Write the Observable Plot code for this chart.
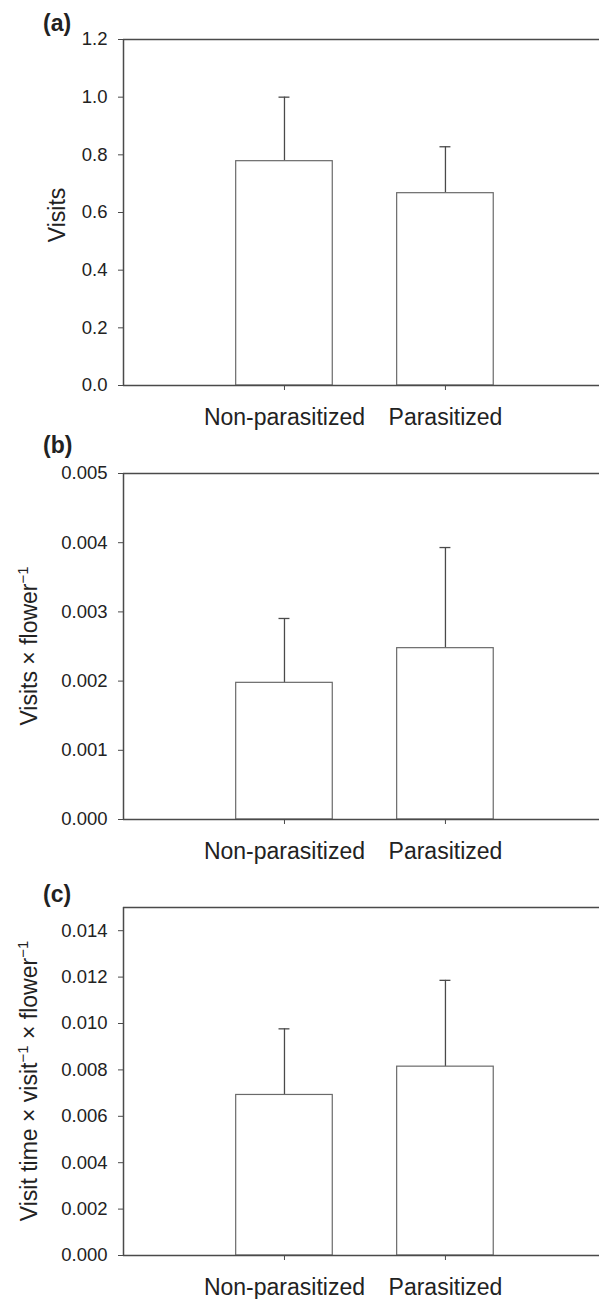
<!DOCTYPE html>
<html>
<head>
<meta charset="utf-8">
<script src="https://cdn.jsdelivr.net/npm/d3@7"></script>
<script src="https://cdn.jsdelivr.net/npm/@observablehq/plot@0.6"></script>
<style>
  html, body { margin: 0; padding: 0; background: #fff; }
  #chart { width: 599px; }
  #chart svg { display: block; }
</style>
</head>
<body>
<div id="chart"></div>
<script>
// ---- Data ----
const categories = ["Non-parasitized", "Parasitized"];

const visitsMean = [0.778, 0.667];
const visitsUpper = [1.0, 0.828];

const perFlowerMean = [0.001975, 0.002476];
const perFlowerUpper = [0.002905, 0.00393];

const timeMean = [0.00692, 0.00814];
const timeUpper = [0.00977, 0.01186];

const ticksA = [0, 0.2, 0.4, 0.6, 0.8, 1.0, 1.2];
const ticksB = [0, 0.001, 0.002, 0.003, 0.004, 0.005];
const ticksC = [0, 0.002, 0.004, 0.006, 0.008, 0.010, 0.012, 0.014];

const FONT = "'Liberation Sans', Arial, Helvetica, sans-serif";
const AXIS = "#4a4a4a";
const BAR = "#6a6a6a";
const TEXT = "#222";

function panel({mean, upper, ymax, ticks, fmt, height, marginTop, marginBottom, tag, label, labelX, labelY}) {
  const data = categories.map((c, i) => ({cat: c, pos: i + 1, value: mean[i], upper: upper[i]}));
  const plot = Plot.plot({
    width: 599,
    height,
    marginLeft: 123,
    marginRight: 0,
    marginTop,
    marginBottom,
    style: {fontFamily: FONT, color: TEXT, background: "white", overflow: "visible"},
    x: {domain: [0, 2.957], axis: null},
    y: {domain: [0, ymax], axis: null},
    marks: [
      Plot.ruleX(data, {x: "pos", y1: "value", y2: "upper", stroke: AXIS, strokeWidth: 1.3}),
      Plot.ruleY(data, {y: "upper", x1: d => d.pos - 0.034, x2: d => d.pos + 0.034, stroke: AXIS, strokeWidth: 1.3}),
      Plot.rect(data, {x1: d => d.pos - 0.3, x2: d => d.pos + 0.3, y1: 0, y2: "value", fill: "white", stroke: BAR, strokeWidth: 1.2}),
      Plot.ruleY([0], {stroke: AXIS, strokeWidth: 1.5}),
      Plot.ruleY([ymax], {stroke: AXIS, strokeWidth: 1.5}),
      Plot.ruleX([0], {stroke: AXIS, strokeWidth: 1.5}),
      Plot.axisY({ticks, tickFormat: fmt, tickSize: 5, tickPadding: 11, fontSize: 18.5, stroke: AXIS, fill: TEXT, label: null}),
      Plot.axisX({ticks: [1, 2], tickFormat: i => categories[i - 1], tickSize: 5, tickPadding: 18, fontSize: 23, stroke: AXIS, fill: TEXT, label: null})
    ]
  });
  const svg = d3.select(plot);
  svg.append("text")
    .attr("x", 43).attr("y", tag.y)
    .attr("text-anchor", "start")
    .attr("font-family", FONT).attr("font-size", 23).attr("font-weight", "bold").attr("fill", TEXT)
    .text(tag.text);
  const t = svg.append("text")
    .attr("transform", `translate(${labelX},${labelY}) rotate(-90)`)
    .attr("text-anchor", "middle")
    .attr("font-family", FONT).attr("font-size", 23).attr("fill", TEXT);
  label.forEach(part => {
    if (part.sup) {
      t.append("tspan").attr("dy", -9).attr("font-size", 15).text(part.text);
    } else {
      t.append("tspan").attr("dy", part.after ? 9 : 0).text(part.text);
    }
  });
  return plot;
}

const chart = document.getElementById("chart");

chart.appendChild(panel({
  mean: visitsMean, upper: visitsUpper, ymax: 1.2, ticks: ticksA, fmt: d3.format(".1f"),
  height: 440, marginTop: 39, marginBottom: 55,
  tag: {text: "(a)", y: 31},
  label: [{text: "Visits"}],
  labelX: 65, labelY: 215
}));

chart.appendChild(panel({
  mean: perFlowerMean, upper: perFlowerUpper, ymax: 0.005, ticks: ticksB, fmt: d3.format(".3f"),
  height: 430, marginTop: 33, marginBottom: 51,
  tag: {text: "(b)", y: 13},
  label: [{text: "Visits × flower"}, {text: "−1", sup: true}],
  labelX: 37, labelY: 206
}));

chart.appendChild(panel({
  mean: timeMean, upper: timeUpper, ymax: 0.015, ticks: ticksC, fmt: d3.format(".3f"),
  height: 429, marginTop: 37, marginBottom: 44,
  tag: {text: "(c)", y: 32},
  label: [{text: "Visit time × visit"}, {text: "−1", sup: true}, {text: " × flower", after: true}, {text: "−1", sup: true}],
  labelX: 37, labelY: 211
}));
</script>
</body>
</html>
